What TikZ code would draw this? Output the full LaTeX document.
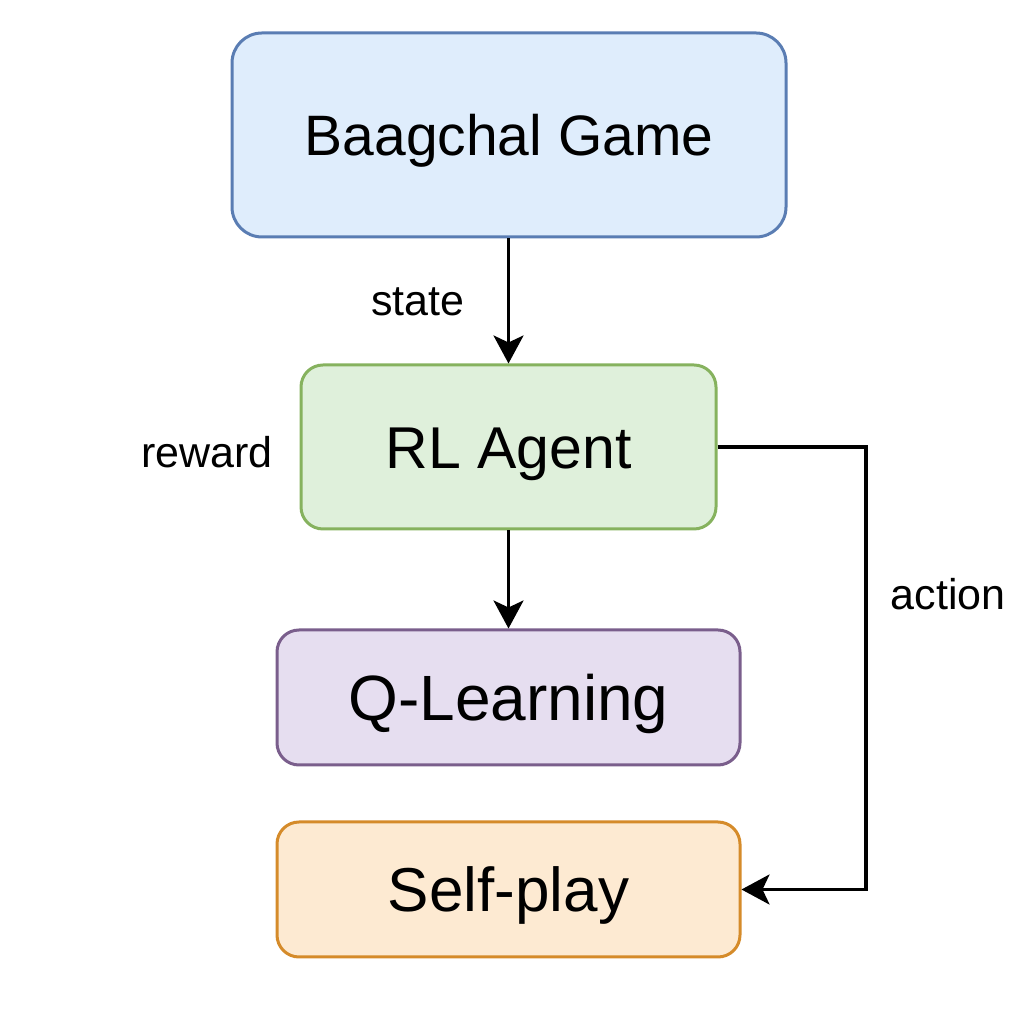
\documentclass[tikz,border=0pt]{standalone}
\usepackage{fontspec}
\setmainfont{Liberation Sans}
\usetikzlibrary{arrows.meta}
\definecolor{bfill}{HTML}{DFEDFC}
\definecolor{bdraw}{HTML}{5A7DB3}
\definecolor{gfill}{HTML}{DFF0DB}
\definecolor{gdraw}{HTML}{86B25E}
\definecolor{pfill}{HTML}{E6DEF0}
\definecolor{pdraw}{HTML}{7A5E8C}
\definecolor{ofill}{HTML}{FDEAD2}
\definecolor{odraw}{HTML}{D58B2A}
\tikzset{
  box/.style={rectangle, rounded corners=22pt, line width=3pt, inner sep=0pt, text depth=0pt},
  lbl/.style={font=\fontsize{43}{52}\selectfont, inner sep=0pt, text height=31pt, text depth=0pt},
  arr/.style={line width=3.2pt, -{Stealth[length=28pt, width=30pt, inset=7pt]}}
}
\begin{document}
\begin{tikzpicture}[x=1pt,y=1pt]
\useasboundingbox (0,0) rectangle (1024,1024);
\node[box, rounded corners=30pt, fill=bfill, draw=bdraw, minimum width=554pt, minimum height=204pt, font=\fontsize{57}{68}\selectfont, text height=40.8pt] (game) at (509,889) {Baagchal Game};
\node[box, fill=gfill, draw=gdraw, minimum width=415pt, minimum height=164pt, font=\fontsize{59}{70}\selectfont, text height=42.2pt] (rl) at (508.5,577) {RL Agent};
\node[box, fill=pfill, draw=pdraw, minimum width=463pt, minimum height=135pt, font=\fontsize{64}{76}\selectfont, text height=45.8pt] (ql) at (508.5,326.5) {Q-Learning};
\node[box, fill=ofill, draw=odraw, minimum width=463pt, minimum height=135pt, font=\fontsize{62}{74}\selectfont, text height=44.4pt] (sp) at (508.5,134.5) {Self-play};
\node[lbl] (state) at (418,724) {state};
\node[lbl] (reward) at (207,572) {reward};
\node[lbl] (action) at (948,430) {action};
\coordinate (turn) at (866,400);
\draw[arr] (game.south -| rl.north) -- (rl.north);
\draw[arr] (rl.south) -- (ql.north);
\draw[arr] (rl.east) -- (rl.east -| turn) -- (sp.east -| turn) -- (sp.east);
\end{tikzpicture}
\end{document}
